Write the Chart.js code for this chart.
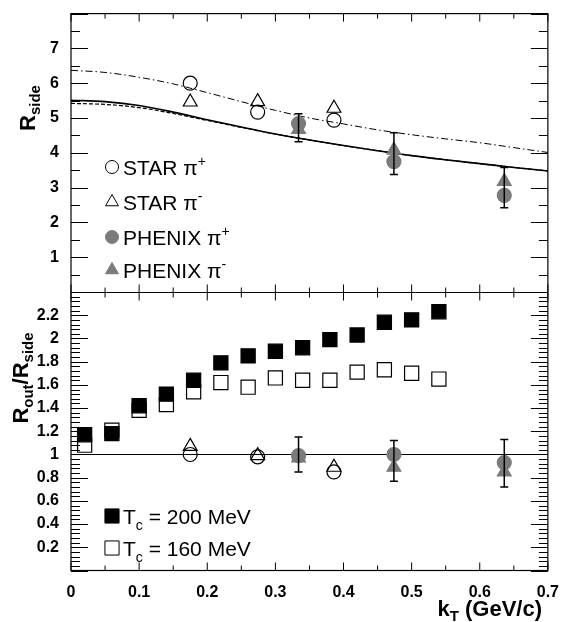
<!DOCTYPE html>
<html>
<head>
<meta charset="utf-8">
<script src="https://cdn.jsdelivr.net/npm/chart.js@4/dist/chart.umd.min.js"></script>
<style>
  body { margin: 0; background: #fff; }
  #wrap { width: 563px; height: 622px; }
</style>
</head>
<body>
<div id="wrap"><canvas id="myChart" width="563" height="622"></canvas></div>
<script>
// kT values (GeV/c)
const starKt   = [0.175, 0.274, 0.386];
const phenixKt = [0.334, 0.474, 0.636];
const modelKt  = [0.02, 0.06, 0.10, 0.14, 0.18, 0.22, 0.26, 0.30, 0.34, 0.38, 0.42, 0.46, 0.50, 0.54];
const curveKt  = [0, 0.05, 0.1, 0.15, 0.2, 0.25, 0.3, 0.35, 0.4, 0.45, 0.5, 0.55, 0.6, 0.65, 0.7];

// top panel : R_side
const starPlusRside    = [6.00, 5.17, 4.94];
const starMinusRside   = [5.46, 5.47, 5.28];
const phenixPlusRside  = [4.84, 3.75, 2.78];
const phenixMinusRside = [4.67, 4.08, 3.18];
const phenixRsideLo    = [4.32, 3.38, 2.42];
const phenixRsideHi    = [5.12, 4.58, 3.58];
const solidRside   = [5.51, 5.47, 5.36, 5.17, 4.95, 4.74, 4.54, 4.37, 4.21, 4.06, 3.92, 3.80, 3.69, 3.58, 3.48];
const dashedRside  = [5.42, 5.39, 5.30, 5.13, 4.93, 4.73, 4.54, 4.37, 4.21, 4.06, 3.92, 3.80, 3.69, 3.58, 3.48];
const dashDotRside = [6.37, 6.31, 6.17, 5.98, 5.73, 5.47, 5.22, 5.00, 4.83, 4.66, 4.52, 4.40, 4.29, 4.15, 4.01];

// bottom panel : R_out / R_side
const tc200Ratio = [1.17, 1.18, 1.42, 1.52, 1.64, 1.79, 1.85, 1.89, 1.92, 1.99, 2.03, 2.14, 2.16, 2.23];
const tc160Ratio = [1.08, 1.21, 1.38, 1.43, 1.54, 1.62, 1.58, 1.66, 1.64, 1.64, 1.71, 1.73, 1.70, 1.65];
const starPlusRatio    = [1.00, 0.98, 0.85];
const starMinusRatio   = [1.07, 0.99, 0.89];
const phenixPlusRatio  = [0.99, 1.00, 0.93];
const phenixMinusRatio = [0.97, 0.89, 0.85];
const phenixRatioLo    = [0.85, 0.77, 0.72];
const phenixRatioHi    = [1.15, 1.12, 1.13];
const unityKt    = [0, 0.7];
const unityRatio = [1, 1];

// axis ranges / tick steps
const xRange = [0, 0.7], xStep = 0.1;
const topRange = [0, 8], topStep = 1;
const botRange = [0, 2.4], botStep = 0.2;

const GRAY = '#7b7b7b';
const FONT = '"Liberation Sans", Arial, Helvetica, sans-serif';

function pts(xs, ys) {
    return xs.map(function (x, i) { return { x: x, y: ys[i] }; });
}

function marker(label, xs, ys, axis, style, radius, filled, color, extra) {
    return Object.assign({
        type: 'scatter',
        label: label,
        data: pts(xs, ys),
        yAxisID: axis,
        pointStyle: style,
        pointRadius: radius,
        pointHoverRadius: radius,
        pointBorderWidth: 1.2,
        borderColor: color,
        backgroundColor: filled ? color : 'rgba(0,0,0,0)',
        showLine: false
    }, extra || {});
}

function curve(label, xs, ys, dash, width) {
    return {
        type: 'line',
        label: label,
        data: pts(xs, ys),
        yAxisID: 'yTop',
        borderColor: '#000',
        borderWidth: width,
        borderDash: dash,
        pointRadius: 0,
        cubicInterpolationMode: 'monotone',
        fill: false
    };
}

// text with sub/superscripts, drawn at baseline
function richWidth(ctx, parts) {
    let w = 0;
    parts.forEach(function (p) { ctx.font = p.font; w += ctx.measureText(p.t).width; });
    return w;
}
function drawRich(ctx, x, y, parts) {
    parts.forEach(function (p) {
        ctx.font = p.font;
        ctx.fillText(p.t, x, y + (p.dy || 0));
        x += ctx.measureText(p.t).width;
    });
}

// ROOT style frame with ticks inside
const framePlugin = {
    id: 'rootFrame',
    afterDatasetsDraw(chart) {
        const ctx = chart.ctx, ca = chart.chartArea;
        const sx = chart.scales.x, yT = chart.scales.yTop, yB = chart.scales.yBot;
        const mid = Math.round(yT.bottom) + 0.5;
        ctx.save();
        ctx.strokeStyle = '#000';
        ctx.lineWidth = 1.2;
        ctx.strokeRect(ca.left, ca.top, ca.width, ca.height);
        ctx.beginPath();
        ctx.moveTo(ca.left, mid); ctx.lineTo(ca.right, mid);
        ctx.stroke();

        ctx.lineWidth = 1;
        ctx.beginPath();
        for (let i = 0; i <= 14; i++) {
            const px = sx.getPixelForValue(i * 0.05);
            const len = i % 2 === 0 ? 8 : 5;
            ctx.moveTo(px, ca.top); ctx.lineTo(px, ca.top + len);
            ctx.moveTo(px, mid); ctx.lineTo(px, mid - len);
            ctx.moveTo(px, mid); ctx.lineTo(px, mid + len);
            ctx.moveTo(px, ca.bottom); ctx.lineTo(px, ca.bottom - len);
        }
        for (let i = 0; i <= 16; i++) {
            const py = Math.round(yT.getPixelForValue(i * 0.5)) + 0.5;
            const len = i % 2 === 0 ? 17 : 9;
            ctx.moveTo(ca.left, py); ctx.lineTo(ca.left + len, py);
            ctx.moveTo(ca.right, py); ctx.lineTo(ca.right - len, py);
        }
        for (let i = 0; i <= 60; i++) {
            const py = Math.round(yB.getPixelForValue(i * 0.04)) + 0.5;
            const len = i % 5 === 0 ? 17 : 9;
            ctx.moveTo(ca.left, py); ctx.lineTo(ca.left + len, py);
            ctx.moveTo(ca.right, py); ctx.lineTo(ca.right - len, py);
        }
        ctx.stroke();

        // error bars
        ctx.lineWidth = 1.5;
        chart.data.datasets.forEach(function (ds) {
            if (!ds.errLo) return;
            const sy = chart.scales[ds.yAxisID];
            ds.data.forEach(function (p, i) {
                const px = sx.getPixelForValue(p.x);
                const lo = sy.getPixelForValue(ds.errLo[i]);
                const hi = sy.getPixelForValue(ds.errHi[i]);
                ctx.beginPath();
                ctx.moveTo(px, lo); ctx.lineTo(px, hi);
                ctx.moveTo(px - 4, lo); ctx.lineTo(px + 4, lo);
                ctx.moveTo(px - 4, hi); ctx.lineTo(px + 4, hi);
                ctx.stroke();
            });
        });
        ctx.restore();
    },
    afterDraw(chart) {
        const ctx = chart.ctx;
        const draw = Chart.helpers.drawPoint;
        ctx.save();
        ctx.fillStyle = '#000';
        ctx.textBaseline = 'alphabetic';

        // legends
        const big = '21px ' + FONT, small = '14px ' + FONT;
        const topRows = [
            { y: 167, style: 'circle', r: 6.5, fill: false, color: '#000', txt: 'STAR \u03c0', sup: '+' },
            { y: 202, style: 'triangle', r: 7.5, fill: false, color: '#000', txt: 'STAR \u03c0', sup: '-' },
            { y: 237, style: 'circle', r: 6.5, fill: true, color: GRAY, txt: 'PHENIX \u03c0', sup: '+' },
            { y: 270, style: 'triangle', r: 7.5, fill: true, color: GRAY, txt: 'PHENIX \u03c0', sup: '-' }
        ];
        topRows.forEach(function (row) {
            ctx.strokeStyle = row.color;
            ctx.fillStyle = row.fill ? row.color : 'rgba(0,0,0,0)';
            draw(ctx, { pointStyle: row.style, radius: row.r, borderWidth: 1.2, rotation: 0 }, 112, row.y);
            ctx.fillStyle = '#000';
            drawRich(ctx, 123, row.y + 8, [
                { t: row.txt, font: big },
                { t: row.sup, font: small, dy: -9 }
            ]);
        });
        const botRows = [
            { y: 516, fill: true, txt: ' = 200 MeV' },
            { y: 548, fill: false, txt: ' = 160 MeV' }
        ];
        botRows.forEach(function (row) {
            ctx.strokeStyle = '#000';
            ctx.fillStyle = row.fill ? '#000' : 'rgba(0,0,0,0)';
            draw(ctx, { pointStyle: 'rect', radius: 10, borderWidth: 1.2, rotation: 0 }, 112, row.y);
            ctx.fillStyle = '#000';
            drawRich(ctx, 123, row.y + 8, [
                { t: 'T', font: big },
                { t: 'c', font: small, dy: 6 },
                { t: row.txt, font: big }
            ]);
        });

        // axis titles
        const tBig = 'bold 22px ' + FONT, tSub = 'bold 15px ' + FONT;
        const xTitle = [{ t: 'k', font: tBig }, { t: 'T', font: tSub, dy: 5 }, { t: ' (GeV/c)', font: tBig }];
        drawRich(ctx, 542 - richWidth(ctx, xTitle), 616, xTitle);

        function vTitle(parts, bx, cy) {
            const w = richWidth(ctx, parts);
            ctx.save();
            ctx.translate(bx, cy);
            ctx.rotate(-Math.PI / 2);
            drawRich(ctx, -w / 2, 0, parts);
            ctx.restore();
        }
        vTitle([{ t: 'R', font: tBig }, { t: 'side', font: tSub, dy: 5 }], 35, 108);
        vTitle([{ t: 'R', font: tBig }, { t: 'out', font: tSub, dy: 5 }, { t: '/R', font: tBig },
                { t: 'side', font: tSub, dy: 5 }], 28, 378);
        ctx.restore();
    }
};

const tickFont = { family: FONT, size: 16, weight: 'bold' };

new Chart(document.getElementById('myChart'), {
    type: 'scatter',
    data: {
        datasets: [
            marker('STAR pi+', starKt, starPlusRside, 'yTop', 'circle', 7, false, '#000'),
            marker('STAR pi-', starKt, starMinusRside, 'yTop', 'triangle', 8, false, '#000'),
            marker('PHENIX pi+', phenixKt, phenixPlusRside, 'yTop', 'circle', 7, true, GRAY,
                   { errLo: phenixRsideLo, errHi: phenixRsideHi }),
            marker('PHENIX pi-', phenixKt, phenixMinusRside, 'yTop', 'triangle', 8, true, GRAY),
            curve('solid', curveKt, solidRside, [], 1.6),
            curve('dashed', curveKt, dashedRside, [4, 2], 1.2),
            curve('dash-dot', curveKt, dashDotRside, [7, 3, 1.5, 3], 1),

            marker('Tc = 200 MeV', modelKt, tc200Ratio, 'yBot', 'rect', 10, true, '#000'),
            marker('Tc = 160 MeV', modelKt, tc160Ratio, 'yBot', 'rect', 10, false, '#000'),
            marker('STAR pi+ ratio', starKt, starPlusRatio, 'yBot', 'circle', 7, false, '#000'),
            marker('STAR pi- ratio', starKt, starMinusRatio, 'yBot', 'triangle', 8, false, '#000'),
            marker('PHENIX pi+ ratio', phenixKt, phenixPlusRatio, 'yBot', 'circle', 7, true, GRAY,
                   { errLo: phenixRatioLo, errHi: phenixRatioHi }),
            marker('PHENIX pi- ratio', phenixKt, phenixMinusRatio, 'yBot', 'triangle', 8, true, GRAY),
            {
                type: 'line', label: 'unity', data: pts(unityKt, unityRatio), yAxisID: 'yBot',
                borderColor: '#000', borderWidth: 1.2, pointRadius: 0, fill: false
            }
        ]
    },
    options: {
        responsive: false,
        animation: false,
        layout: { padding: { left: 0, right: 11, top: 8, bottom: 0 } },
        plugins: { legend: { display: false }, tooltip: { enabled: false } },
        scales: {
            x: {
                type: 'linear', min: xRange[0], max: xRange[1],
                grid: { display: false }, border: { display: false },
                ticks: { stepSize: xStep, font: tickFont, color: '#000', padding: 4,
                         maxRotation: 0, autoSkip: false },
                afterFit: function (s) { s.height = 51.5; }
            },
            yBot: {
                type: 'linear', position: 'left', stack: 'panels', stackWeight: 1,
                min: botRange[0], max: botRange[1],
                grid: { display: false }, border: { display: false },
                ticks: {
                    stepSize: botStep, font: tickFont, color: '#000', padding: 4, autoSkip: false,
                    callback: function (v) { return (v <= 0 || v >= 2.39) ? '' : Math.round(v * 10) / 10; }
                },
                afterFit: function (s) { s.width = 71; }
            },
            yTop: {
                type: 'linear', position: 'left', stack: 'panels', stackWeight: 1,
                min: topRange[0], max: topRange[1],
                grid: { display: false }, border: { display: false },
                ticks: {
                    stepSize: topStep, font: tickFont, color: '#000', padding: 4, autoSkip: false,
                    callback: function (v) { return (v <= 0 || v >= 8) ? '' : v; }
                },
                afterFit: function (s) { s.width = 71; }
            }
        }
    },
    plugins: [framePlugin]
});
</script>
</body>
</html>
